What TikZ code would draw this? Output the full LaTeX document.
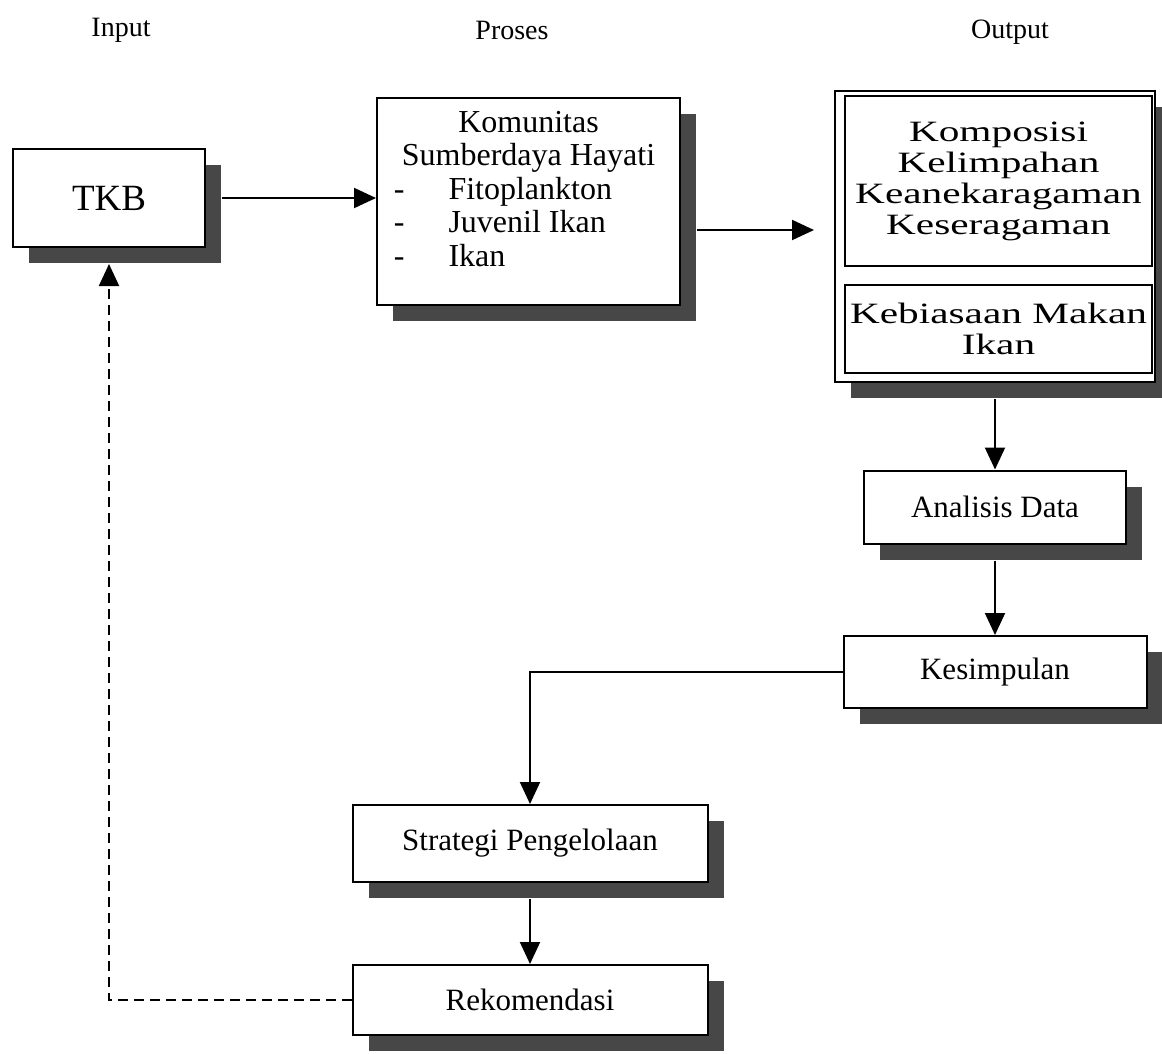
\documentclass[tikz,border=0pt]{standalone}
\usepackage{fontspec}
\setmainfont{Liberation Serif}
\newfontfamily\widefont[FakeStretch=1.4]{Liberation Serif}
\usetikzlibrary{arrows.meta,shadows}

\begin{document}
\begin{tikzpicture}[x=1pt,y=-1pt,
    box/.style={draw, line width=2pt, fill=white, inner sep=0pt,
      font=\fontsize{31}{37}\selectfont,
      drop shadow={shadow xshift=16pt, shadow yshift=-16pt, fill=black!72, opacity=1}},
    inbox/.style={draw, line width=2pt, fill=white, inner sep=0pt, align=center,
      font=\widefont\fontsize{29.5}{31}\selectfont},
    head/.style={font=\fontsize{28}{32}\selectfont},
    arr/.style={line width=2pt, -{Triangle[length=22pt,width=20pt]}}]
    \useasboundingbox (0,0) rectangle (1162,1053);

    % Headings
    \node[head] (hin) at (121,30) {Input};
    \node[head] (hpro) at (512,30) {Proses};
    \node[head] (hout) at (1010,32) {Output};

    % Boxes
    \node[box, minimum width=192pt, minimum height=98pt,
      font=\fontsize{37}{40}\selectfont] (tkb) at (109,198) {TKB};
    \node[box, minimum width=303pt, minimum height=207pt,
      font=\fontsize{32}{33.5}\selectfont] (kom) at (528.5,201.5) {%
      \begin{tabular}{@{\hspace{-8pt}}l@{\hspace{44pt}}l@{}}
        \multicolumn{2}{@{}c@{}}{Komunitas}\\
        \multicolumn{2}{@{}c@{}}{Sumberdaya Hayati}\\
        - & Fitoplankton\\
        - & Juvenil Ikan\\
        - & Ikan\\[18pt]
      \end{tabular}};
    \node[box, minimum width=320pt, minimum height=291pt] (out) at (995,236.5) {};
    \node[inbox, minimum width=307pt, minimum height=170pt] (komp) at (998.5,181)
      {Komposisi\\Kelimpahan\\Keanekaragaman\\Keseragaman};
    \node[inbox, minimum width=307pt, minimum height=88pt] (makan) at (998.5,329)
      {Kebiasaan Makan\\Ikan};
    \node[box, minimum width=262pt, minimum height=73pt] (ana) at (995,507) {Analisis Data};
    \node[box, minimum width=303pt, minimum height=72pt] (kes) at (995,672) {Kesimpulan};
    \node[box, minimum width=355pt, minimum height=77pt] (str) at (530,843.5) {Strategi Pengelolaan};
    \node[box, minimum width=355pt, minimum height=70pt] (rek) at (530,1000) {Rekomendasi};

    % Arrows
    \draw[arr] ([xshift=16pt]tkb.east) -- (tkb.east -| kom.west);
    \draw[arr] ([xshift=16pt,yshift=-28.5pt]kom.east) -- ([xshift=-20pt,yshift=6.5pt]out.west);
    \draw[arr] ([yshift=-16pt]out.south) -- (ana.north);
    \draw[arr] ([yshift=-16pt]ana.south) -- (kes.north);
    \draw[arr] (kes.west) -| (str.north);
    \draw[arr] ([yshift=-16pt]str.south) -- (rek.north);
    \draw[arr, dash pattern=on 10pt off 6pt] (rek.west) -| ([yshift=-16pt]tkb.south);
\end{tikzpicture}
\end{document}
